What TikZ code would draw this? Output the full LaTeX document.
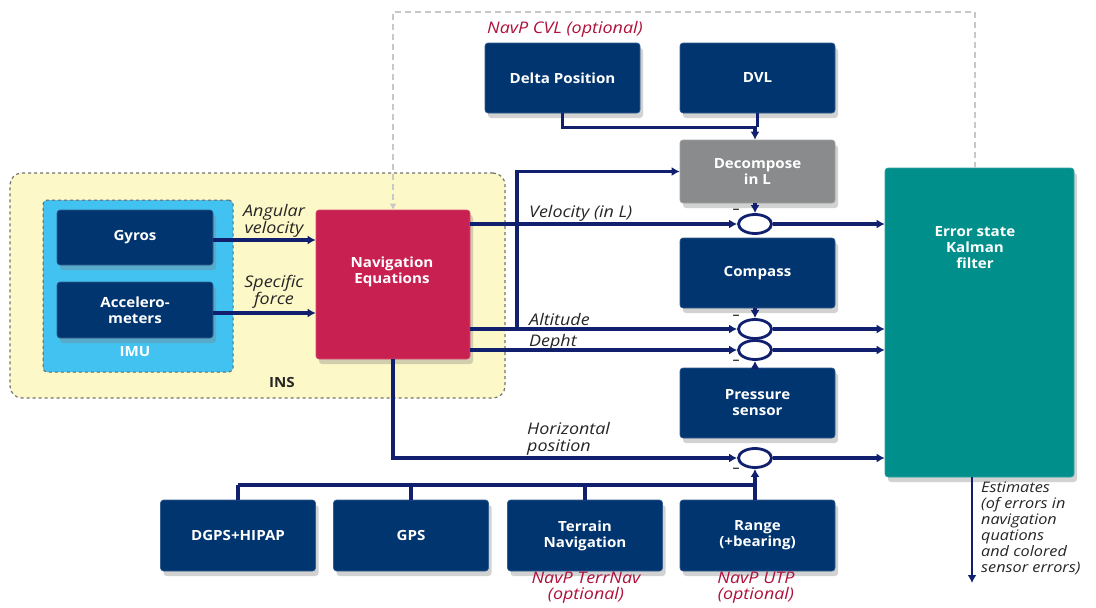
\documentclass[tikz,border=0pt]{standalone}
\usepackage{fontspec}
\setmainfont{Open Sans}
\newfontfamily\widefont{Open Sans}[FakeStretch=1.12]
\newfontfamily\boxfont{Open Sans}[FakeStretch=1.08]
\usetikzlibrary{arrows.meta,shadows,shapes.geometric,calc}
\definecolor{navy}{RGB}{0,53,112}
\definecolor{lineblue}{RGB}{16,32,110}
\definecolor{crim}{RGB}{200,32,80}
\definecolor{grayb}{RGB}{138,139,141}
\definecolor{tealk}{RGB}{0,143,138}
\definecolor{insy}{RGB}{253,248,200}
\definecolor{imub}{RGB}{66,194,240}
\definecolor{optred}{RGB}{176,16,60}
\definecolor{dashgray}{RGB}{200,200,200}
\tikzset{
  shad/.style={drop shadow={opacity=0.35,shadow xshift=3pt,shadow yshift=-5pt}},
  box/.style={shad,fill=navy,draw=navy!80!white,line width=0.6pt,rounded corners=3pt,text=white,
    font=\boxfont\bfseries\fontsize{14}{16}\selectfont,align=center,inner sep=0pt,
    minimum width=155pt,minimum height=70pt},
  wt/.style={text=white,font=\boxfont\bfseries\fontsize{14}{16}\selectfont,align=center},
  lab/.style={font=\widefont\itshape\fontsize{16}{17}\selectfont,text=black!85,align=left,inner sep=0pt},
  opt/.style={font=\widefont\itshape\fontsize{16}{16}\selectfont,text=optred,align=center,inner sep=0pt},
  conn/.style={line width=3.4pt,draw=lineblue,-{Latex[length=8pt,width=9pt]}},
  plain/.style={line width=3.4pt,draw=lineblue},
  sumc/.style={ellipse,draw=lineblue,line width=2.8pt,fill=white,minimum width=33pt,minimum height=19pt,inner sep=0pt},
  minus/.style={font=\fontsize{14}{14}\selectfont,text=black,inner sep=0pt},
}
\begin{document}
\begin{tikzpicture}[x=1pt,y=-1pt]
\useasboundingbox (0,0) rectangle (1096,608);
\fill[white] (0,0) rectangle (1096,608);
% INS and IMU
\node[draw=black!55,dashed,line width=1.2pt,fill=insy,rounded corners=12pt,minimum width=495pt,minimum height=225pt,inner sep=0pt] (ins) at (257.5,285.5) {};
\node[font=\boxfont\bfseries\fontsize{14}{16}\selectfont,text=black!85] (inslab) at (282,382) {INS};
\node[draw=black!60,dashed,line width=1pt,fill=imub,rounded corners=4pt,minimum width=190pt,minimum height=172pt,inner sep=0pt] (imu) at (138,286) {};
\node[wt] (imulab) at (135,352) {IMU};
\node[box,minimum width=156pt,minimum height=55pt] (gyro) at (135,237.5) {Gyros};
\node[box,minimum width=156pt,minimum height=56pt] (acc) at (135,310) {Accelero-\\meters};
% Navigation equations
\node[box,fill=crim,draw=crim!80!white,minimum width=154pt,minimum height=149pt] (nav) at (393,284.5) {};
\node[wt] (navlab) at (392,272) {Navigation\\Equations};
% Kalman
\node[box,fill=tealk,draw=tealk!80!white,minimum width=189pt,minimum height=309pt] (kal) at (979.5,322.5) {};
\node[wt] (kallab) at (975,248) {Error state\\Kalman\\filter};
% top boxes
\node[opt] (cvl) at (565,29) {NavP CVL (optional)};
\node[box] (dp) at (562.5,78) {Delta Position};
\node[box] (dvl) at (757.5,78) {DVL};
\node[box,fill=grayb,draw=grayb!80!white,minimum height=63pt] (dec) at (757.5,171.5) {Decompose\\in L};
\node[box] (comp) at (757.5,273) {Compass};
\node[box] (pres) at (757.5,403) {Pressure\\sensor};
% bottom boxes
\node[box,minimum height=71pt] (dgps) at (238,535.5) {DGPS+HIPAP};
\node[box,minimum height=71pt] (gps) at (411,535.5) {GPS};
\node[box,minimum height=71pt] (terr) at (585,535.5) {Terrain\\Navigation};
\node[box,minimum height=71pt] (rng) at (757.5,535.5) {Range\\(+bearing)};
\node[opt] (optterr) at (586,588) {NavP TerrNav\\(optional)};
\node[opt] (optutp) at (756,588) {NavP UTP\\(optional)};
% summing junctions
\node[sumc] (c1) at (755,224) {};
\node[sumc] (c2) at (755,329) {};
\node[sumc] (c3) at (755,350) {};
\node[sumc] (c4) at (755,458) {};
\node[minus] (m1) at (736,211) {--};
\node[minus] (m2) at (736,317) {--};
\node[minus] (m3) at (736,362) {--};
\node[minus] (m4) at (736,470) {--};
% coordinates
\coordinate (dsT) at (975,12);
\coordinate (dsL) at (393,12);
\coordinate (dsK) at (975,168);
\coordinate (j) at (517,329);
\coordinate (bus) at (755,485);
\coordinate (busL) at (238,485);
\coordinate (est) at (972,583);
% gray dashed feedback
\draw[draw=dashgray,line width=2pt,dash pattern=on 6pt off 4pt,-{Latex[length=6pt,width=7pt]}] (dsK) -- (dsT) -- (dsL) -- (nav.north);
% IMU to nav
\draw[conn] (gyro.east |- 0,240) -- (nav.west |- 0,240);
\draw[conn] (acc.east |- 0,313) -- (nav.west |- 0,313);
\node[lab,align=center] (angl) at (274,221) {Angular\\velocity};
\node[lab,align=center] (spfl) at (274,292) {Specific\\force};
% DVL / delta position
\draw[plain] (dvl.south) -- (dvl.south |- 0,127);
\draw[conn] (dp.south) -- ($(dp.south)+(0,14)$) -| (c1.north |- dec.north);
% nav outputs
\draw[conn] (nav.east |- c1) -- (c1.west);
\draw[conn] (nav.east |- c2) -- (c2.west);
\draw[conn] (nav.east |- c3) -- (c3.west);
\draw[conn] (j) |- (dec.west);
\draw[conn] (nav.south) |- (c4.west);
\node[lab,anchor=west] (vell) at (529,213) {Velocity (in L)};
\node[lab,anchor=west] (altl) at (529,319) {Altitude};
\node[lab,anchor=west] (depl) at (529,342) {Depht};
\node[lab,anchor=west] (horl) at (527,439) {Horizontal\\position};
% sensors into junctions
\draw[conn] (c1.north |- dec.south) -- (c1.north);
\draw[conn] (c2.north |- comp.south) -- (c2.north);
\draw[conn] (c3.south |- pres.north) -- (c3.south);
\draw[conn] (bus) -- (c4.south);
% bus
\draw[plain] (busL) -- (bus);
\draw[plain] (dgps.north) -- (dgps.north |- bus);
\draw[plain] (gps.north) -- (gps.north |- bus);
\draw[plain] (terr.north) -- (terr.north |- bus);
\draw[plain] (c4.south |- rng.north) -- (bus);
% junctions to Kalman
\draw[conn] (c1.east) -- (kal.west |- c1);
\draw[conn] (c2.east) -- (kal.west |- c2);
\draw[conn] (c3.east) -- (kal.west |- c3);
\draw[conn] (c4.east) -- (kal.west |- c4);
% estimates
\draw[conn,line width=2.8pt] (kal.south -| est) -- (est);
\node[lab,anchor=north west,font=\widefont\itshape\fontsize{14.5}{16}\selectfont] (estl) at (981,482) {Estimates\\(of errors in\\navigation\\quations\\and colored\\sensor errors)};
\end{tikzpicture}
\end{document}
